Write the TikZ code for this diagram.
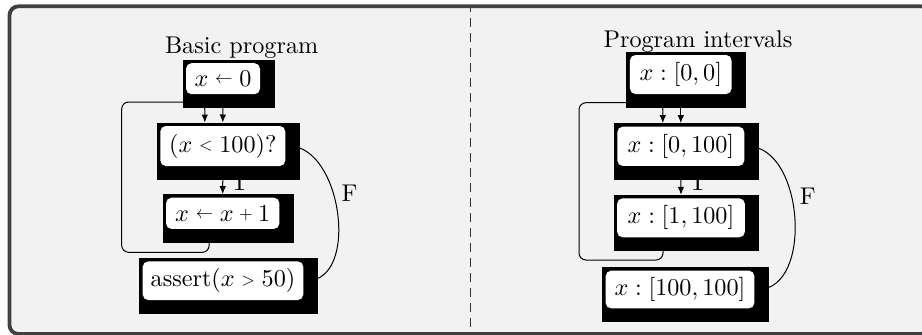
\documentclass[tikz,border=0pt]{standalone}
\usepackage{graphicx}
\usetikzlibrary{calc,arrows.meta}
\pgfdeclarelayer{background}
\pgfsetlayers{background,main}
\definecolor{framegray}{HTML}{404040}
\definecolor{panelgray}{HTML}{F2F2F2}
\definecolor{dashgray}{HTML}{333333}
\newcommand{\ntxt}[1]{\scalebox{2.42}{#1}}
\newcommand{\ttxt}[1]{\scalebox{2.42}{#1}}
\newcommand{\smrel}[1]{\mathrel{\vcenter{\hbox{\scalebox{0.72}{$#1$}}}}}
\newcommand{\smbin}[1]{\mathbin{\vcenter{\hbox{\scalebox{0.72}{$#1$}}}}}
\tikzset{
  wbox/.style={fill=white, rounded corners=5.5pt, inner sep=0pt, outer sep=3.5pt},
  ttl/.style={anchor=base, inner sep=0pt},
  conn/.style={line width=1pt, black},
  arr/.style={conn, -{Latex[length=8pt,width=6.5pt]}},
  lbl/.style={inner sep=7.7pt},
}
\begin{document}
\begin{tikzpicture}[x=1pt,y=-1pt]
\useasboundingbox (0,0) rectangle (922,335);
\clip (0,0) rectangle (922,335);

% titles
\node[ttl] (t1) at (241.7,53.3) {\ttxt{Basic program}};
\node[ttl] (t2) at (698,47.5) {\ttxt{Program intervals}};

% left nodes
\node[wbox, minimum width=74pt, minimum height=31pt] (n1) at (223,78.7) {\ntxt{$x \smrel{\leftarrow} 0$}};
\node[wbox, minimum width=125pt, minimum height=40pt] (n2) at (222.8,146) {\ntxt{$(x \smrel{<} 100)?$}};
\node[wbox, minimum width=113.3pt, minimum height=31.3pt] (n3) at (222.7,213.3) {\ntxt{$x \smrel{\leftarrow} x \smbin{+} 1$}};
\node[wbox, minimum width=160.6pt, minimum height=38.7pt] (n4) at (223,280.7) {\ntxt{assert$(x \smrel{>} 50)$}};

% right nodes
\node[wbox, minimum width=101.7pt, minimum height=39pt] (r1) at (680.8,74.5) {\ntxt{$x:[0,0]$}};
\node[wbox, minimum width=127pt, minimum height=39.3pt] (r2) at (680.8,146.3) {\ntxt{$x:[0,100]$}};
\node[wbox, minimum width=127.7pt, minimum height=39pt] (r3) at (681,217.8) {\ntxt{$x:[1,100]$}};
\node[wbox, minimum width=148.7pt, minimum height=37.7pt] (r4) at (680,289.5) {\ntxt{$x:[100,100]$}};

\begin{pgfonlayer}{background}
  \fill[panelgray] (9.5,6.3) [rounded corners=9pt] rectangle (930,334);
  \draw[dashgray, line width=1.2pt, dash pattern=on 9pt off 6pt, dash phase=3pt]
    (470.7,6) -- (470.7,335);
  \draw[framegray, line width=3.8pt, rounded corners=9pt] (9.5,6.3) rectangle (930,334);
  \foreach \n in {n1,n2,n3,n4,r1,r2,r3,r4}{
    \fill[black] (\n.north west) rectangle ($(\n.south east)+(11,10.5)$);
  }
\end{pgfonlayer}

% left connectors
\draw[arr] (n1.south) -- (n2.north);
\draw[arr] (n2.south) -- node[lbl, right] {\ntxt{T}} (n3.north);
\draw[arr, rounded corners=7pt] ([xshift=-13.5pt]n3.south) -- (209.2,252.3)
  -- (121.7,252.3) -- (121.7,102) -- (204.8,102) -- ([xshift=-18pt]n2.north);
\draw[conn] (n2.east) to[out=0,in=0] node[lbl, pos=0.4, right] {\ntxt{F}} (n4.east);

% right connectors
\draw[arr] (r1.south) -- (r2.north);
\draw[arr] (r2.south) -- node[lbl, right] {\ntxt{T}} (r3.north);
\draw[arr, rounded corners=7pt] ([xshift=-18pt]r3.south) -- (663,260)
  -- (579,260) -- (579,102.7) -- (662.8,102.7) -- ([xshift=-18pt]r2.north);
\draw[conn] (r2.east) to[out=0,in=0] node[lbl, pos=0.4, right] {\ntxt{F}} (r4.east);
\end{tikzpicture}
\end{document}
